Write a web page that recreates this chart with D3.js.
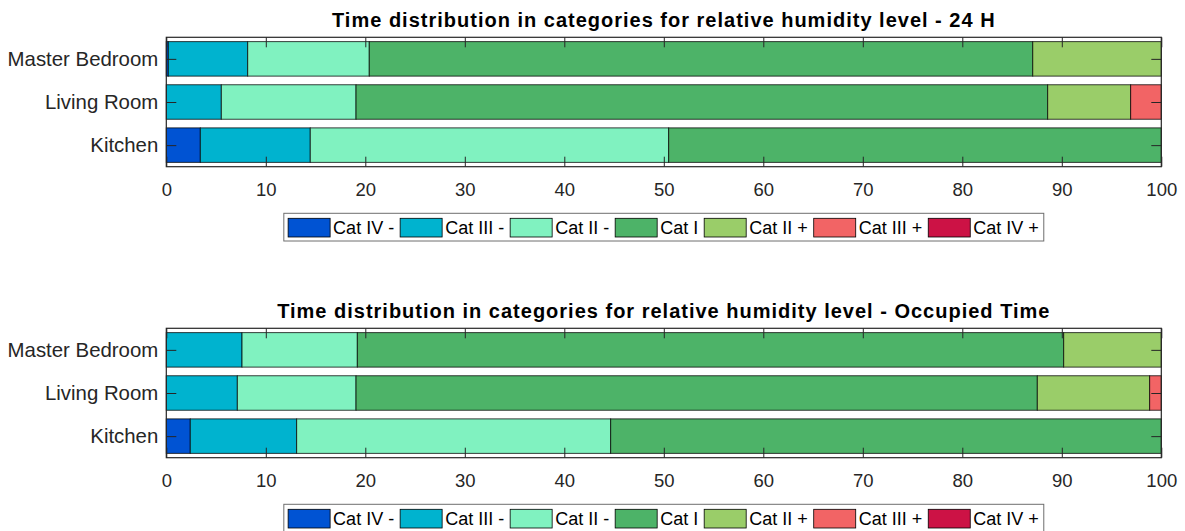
<!DOCTYPE html>
<html>
<head>
<meta charset="utf-8">
<script src="https://cdn.jsdelivr.net/npm/d3@7"></script>
<style>
  body { margin: 0; background: #fff; }
  svg { font-family: 'Liberation Sans', Arial, sans-serif; }
</style>
</head>
<body>
<svg id="chart" width="1185" height="531"></svg>
<script>
const rooms = ['Kitchen', 'Living Room', 'Master Bedroom']
const categories = ['Cat IV -', 'Cat III -', 'Cat II -', 'Cat I', 'Cat II +', 'Cat III +', 'Cat IV +']
const catColors = ['#0053d3', '#00b3cf', '#80f2c0', '#4db368', '#9acd69', '#f26465', '#cc1245']
const xTicks = [0, 10, 20, 30, 40, 50, 60, 70, 80, 90, 100]

// % of time per category - 24 H
const fullKitchen = [3.42, 11.05, 36.02, 49.51, 0, 0, 0]
const fullLiving = [0, 5.53, 13.54, 69.51, 8.34, 3.08, 0]
const fullMaster = [0.2, 7.98, 12.22, 66.68, 12.92, 0, 0]
// % of time per category - occupied time only
const occKitchen = [2.41, 10.69, 31.56, 55.34, 0, 0, 0]
const occLiving = [0, 7.14, 11.93, 68.47, 11.29, 1.17, 0]
const occMaster = [0, 7.61, 11.59, 70.99, 9.81, 0, 0]

const titles = [
	'Time distribution in categories for relative humidity level - 24 H',
	'Time distribution in categories for relative humidity level - Occupied Time'
]

const axLeft = 166.3
const axRight = 1161.3
const axHeight = 129.4
const panelTops = [37.3, 328.3]
const axColor = '#262626'

const svg = d3.select('#chart')

const x = d3.scaleLinear().domain([0, 100]).range([0, axRight - axLeft])
const y = d3.scaleLinear().domain([0.5, 3.5]).range([axHeight, 0])

function drawPanel(top, title, rows) {
	const g = svg.append('g').attr('transform', `translate(${axLeft},${top})`)

	// table for d3.stack
	const table = rows.map((vals, i) => {
		const obj = { room: rooms[i], pos: i + 1 }
		categories.forEach((c, j) => { obj[c] = vals[j] })
		return obj
	})
	const stacked = d3.stack().keys(categories)(table)

	g.append('g')
		.selectAll('g')
		.data(stacked)
		.join('g')
		.attr('fill', (d, i) => catColors[i])
		.selectAll('rect')
		.data(d => d.filter(s => s[1] - s[0] > 0))
		.join('rect')
		.attr('x', d => x(d[0]))
		.attr('width', d => x(d[1]) - x(d[0]))
		.attr('y', d => y(d.data.pos + 0.4))
		.attr('height', d => y(d.data.pos - 0.4) - y(d.data.pos + 0.4))
		.attr('stroke', '#000')
		.attr('stroke-opacity', 0.75)
		.attr('stroke-width', 1)

	// axes, ticks pointing inward
	const bottom = g.append('g')
		.attr('transform', `translate(0,${axHeight})`)
		.call(d3.axisBottom(x).tickValues(xTicks).tickSize(-10).tickPadding(16))
	g.append('g')
		.call(d3.axisTop(x).tickValues(xTicks).tickSize(-10).tickFormat(''))
	const left = g.append('g')
		.call(d3.axisLeft(y).tickValues([1, 2, 3]).tickSize(-10).tickPadding(8).tickFormat(d => rooms[d - 1]))
	g.append('g')
		.attr('transform', `translate(${axRight - axLeft},0)`)
		.call(d3.axisRight(y).tickValues([1, 2, 3]).tickSize(-10).tickFormat(''))

	g.selectAll('.domain').remove()
	g.selectAll('.tick line').attr('stroke', axColor)
	bottom.selectAll('text').attr('font-size', 18.5).attr('fill', axColor)
	left.selectAll('text').attr('font-size', 20.4).attr('fill', axColor)

	g.append('rect')
		.attr('width', axRight - axLeft)
		.attr('height', axHeight)
		.attr('fill', 'none')
		.attr('stroke', axColor)
		.attr('stroke-width', 1.2)

	g.append('text')
		.attr('x', (axRight - axLeft) / 2)
		.attr('y', -10.6)
		.attr('text-anchor', 'middle')
		.attr('font-weight', 'bold')
		.attr('font-size', 20)
		.attr('letter-spacing', 1)
		.attr('fill', '#000')
		.text(title)

	// legend below the axes
	const lg = g.append('g').attr('transform', `translate(0,${176})`)
	const box = lg.append('rect')
		.attr('height', 27.7)
		.attr('fill', '#fff')
		.attr('stroke', '#6e6e6e')
		.attr('stroke-width', 1)
	let cx = 4.3
	categories.forEach((c, i) => {
		lg.append('rect')
			.attr('x', cx)
			.attr('y', 5)
			.attr('width', 42)
			.attr('height', 18.7)
			.attr('fill', catColors[i])
			.attr('stroke', '#000')
			.attr('stroke-width', 0.8)
		const t = lg.append('text')
			.attr('x', cx + 45)
			.attr('y', 21)
			.attr('font-size', 18)
			.attr('fill', '#000')
			.text(c)
		cx += 45 + t.node().getComputedTextLength() + 6
	})
	const legendW = cx - 1
	box.attr('width', legendW)
	lg.attr('transform', `translate(${(axRight - axLeft - legendW) / 2},176)`)
}

drawPanel(panelTops[0], titles[0], [fullKitchen, fullLiving, fullMaster])
drawPanel(panelTops[1], titles[1], [occKitchen, occLiving, occMaster])
</script>
</body>
</html>
